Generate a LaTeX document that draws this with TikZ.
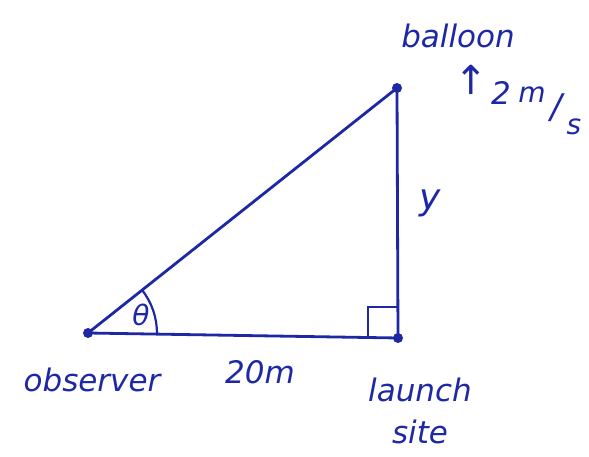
\documentclass[tikz,border=0pt]{standalone}
\usepackage{fontspec}
\setmainfont{DejaVu Sans}
\definecolor{ink}{RGB}{30,40,165}
\begin{document}
\begin{tikzpicture}[x=1pt,y=-1pt,
  edge/.style={draw=ink,line width=2.8pt,line cap=round},
  lbl/.style={text=ink,font=\fontsize{31}{33}\selectfont\itshape,inner sep=0pt},
  small/.style={lbl,font=\fontsize{28}{30}\selectfont\itshape},
  vdot/.style={circle,fill=ink,minimum size=10pt,inner sep=0pt}]
\useasboundingbox (0,0) rectangle (589,457);
\fill[white] (0,0) rectangle (589,457);
\node[vdot] (obs) at (88,333) {};
\node[vdot] (site) at (398,338) {};
\node[vdot] (ball) at (397,88) {};
\draw[edge] (obs.center) -- (ball.center);
\draw[edge] (ball.center) -- (site.center);
\draw[edge] (obs.center) -- (site.center);
\draw[edge,line width=2.2pt] (368,336) -- (368,307) -- (397,307);
\draw[edge,line width=2.2pt] (142,290) arc[start angle=-38.4,end angle=1,radius=69];
\node[lbl,font=\fontsize{28}{30}\selectfont\itshape] (theta) at (141,315) {θ};
\node[lbl] (lballoon) at (458,36) {balloon};
\node[lbl,font=\fontsize{40}{42}\selectfont] (larrow) at (471,80) {↑};
\node[lbl] (ltwo) at (501,93) {2};
\node[small] (lm) at (532,95) {m};
\node[small,font=\fontsize{34}{36}\selectfont\itshape] (lslash) at (556,108) {/};
\node[small] (ls) at (574,127) {s};
\node[lbl,font=\fontsize{36}{38}\selectfont\itshape] (ly) at (430,203) {y};
\node[lbl] (lobs) at (92,380) {observer};
\node[lbl] (l20) at (260,372) {20m};
\node[lbl] (llaunch) at (420,390) {launch};
\node[lbl] (lsite) at (420,432) {site};
\end{tikzpicture}
\end{document}
